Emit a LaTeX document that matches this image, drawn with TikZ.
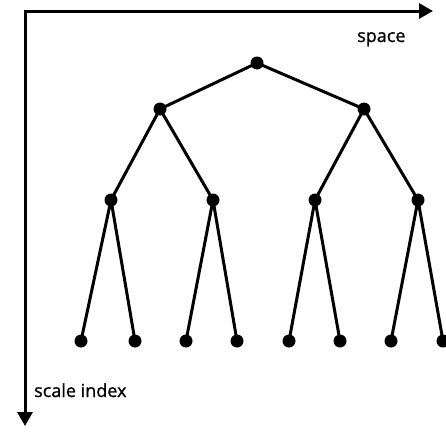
\documentclass[tikz,border=0pt]{standalone}
\usepackage{fontspec}
\setmainfont{Open Sans}[FakeBold=1]
\usetikzlibrary{arrows.meta}
\begin{document}
\begin{tikzpicture}[x=1pt,y=-1pt,
  dotnode/.style={circle,fill=black,inner sep=0pt,minimum size=13pt},
  edge/.style={line width=3pt},
  axis/.style={line width=3pt,-{Triangle[length=14pt,width=15pt]}},
  lbl/.style={font=\fontsize{18}{20}\selectfont,inner sep=0pt,anchor=base west}]
\useasboundingbox (0,0) rectangle (446,431);
\coordinate (o) at (25,11);
\coordinate (xe) at (433,11);
\coordinate (ye) at (25,426);
\draw[axis] ([xshift=-1.5pt]o) -- (xe);
\draw[axis] ([yshift=-1.5pt]o) -- (ye);
\node[lbl] (space) at (357,42) {space};
\node[lbl] (scale) at (34,397) {scale index};
\node[dotnode] (r) at (257,63) {};
\node[dotnode] (a) at (160,109) {};
\node[dotnode] (b) at (364,109) {};
\node[dotnode] (a1) at (111,200) {};
\node[dotnode] (a2) at (213,200) {};
\node[dotnode] (b1) at (315,200) {};
\node[dotnode] (b2) at (418,200) {};
\node[dotnode] (l1) at (81,341) {};
\node[dotnode] (l2) at (135,341) {};
\node[dotnode] (l3) at (186,341) {};
\node[dotnode] (l4) at (237,341) {};
\node[dotnode] (l5) at (289,341) {};
\node[dotnode] (l6) at (340,341) {};
\node[dotnode] (l7) at (391,341) {};
\node[dotnode] (l8) at (443,341) {};
\draw[edge] (r.center) -- (a.center) (r.center) -- (b.center)
  (a.center) -- (a1.center) (a.center) -- (a2.center)
  (b.center) -- (b1.center) (b.center) -- (b2.center)
  (a1.center) -- (l1.center) (a1.center) -- (l2.center)
  (a2.center) -- (l3.center) (a2.center) -- (l4.center)
  (b1.center) -- (l5.center) (b1.center) -- (l6.center)
  (b2.center) -- (l7.center) (b2.center) -- (l8.center);
\end{tikzpicture}
\end{document}
